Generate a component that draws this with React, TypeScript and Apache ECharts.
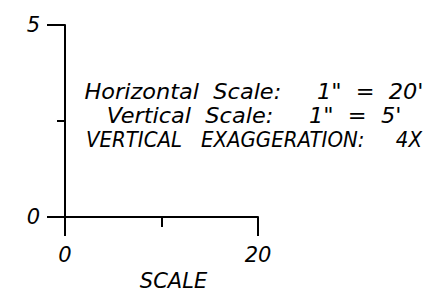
import React, { useEffect, useRef } from "react";
import * as echarts from "echarts";

const xRange = [0, 20];
const yRange = [0, 5];
const xTickInterval = 20;
const yTickInterval = 5;
const noteLines = [
  "Horizontal  Scale:     1\"  =  20'",
  "Vertical  Scale:     1\"  =  5'",
  "VERTICAL   EXAGGERATION:     4X",
];
const noteSizes = [22, 22, 22];
const noteStretch = [1.02, 1.02, 0.9];
const xAxisTitle = "SCALE";

const FONT = "DejaVu Sans";

export default function App() {
  const ref = useRef<HTMLDivElement>(null);
  useEffect(() => {
    const chart = echarts.init(ref.current!, null, { renderer: "svg" });
    const labelStyle = {
      color: "#000",
      fontFamily: FONT,
      fontStyle: "italic" as const,
      fontSize: 21,
    };
    chart.setOption({
      animation: false,
      backgroundColor: "#fff",
      grid: { left: 65, top: 25, width: 193, height: 192, containLabel: false },
      xAxis: {
        type: "value",
        min: xRange[0],
        max: xRange[1],
        interval: xTickInterval,
        name: xAxisTitle,
        nameLocation: "middle",
        nameGap: 53,
        nameTextStyle: { ...labelStyle, padding: [0, 0, 0, 24] },
        axisLine: { show: true, lineStyle: { color: "#000", width: 2 } },
        axisTick: { show: true, length: 19, lineStyle: { color: "#000", width: 2 } },
        minorTick: { show: true, splitNumber: 2, length: 10, lineStyle: { color: "#000", width: 2 } },
        axisLabel: { ...labelStyle, margin: 27 },
        splitLine: { show: false },
      },
      yAxis: {
        type: "value",
        min: yRange[0],
        max: yRange[1],
        interval: yTickInterval,
        axisLine: { show: true, lineStyle: { color: "#000", width: 2 } },
        axisTick: { show: true, length: 18, lineStyle: { color: "#000", width: 2 } },
        minorTick: { show: true, splitNumber: 2, length: 8, lineStyle: { color: "#000", width: 2 } },
        axisLabel: { ...labelStyle, margin: 25 },
        splitLine: { show: false },
      },
      graphic: noteLines.map((t, i) => ({
        type: "text",
        x: 254,
        y: 91 + i * 24.5,
        scaleX: noteStretch[i],
        style: {
          text: t,
          fill: "#000",
          fontFamily: FONT,
          fontStyle: "italic",
          fontSize: noteSizes[i],
          textAlign: "center",
          textVerticalAlign: "middle",
        },
      })),
      series: [],
    });
    return () => chart.dispose();
  }, []);
  return (
    <div
      ref={ref}
      style={{ position: "fixed", left: 0, top: 0, width: 441, height: 297 }}
    />
  );
}
